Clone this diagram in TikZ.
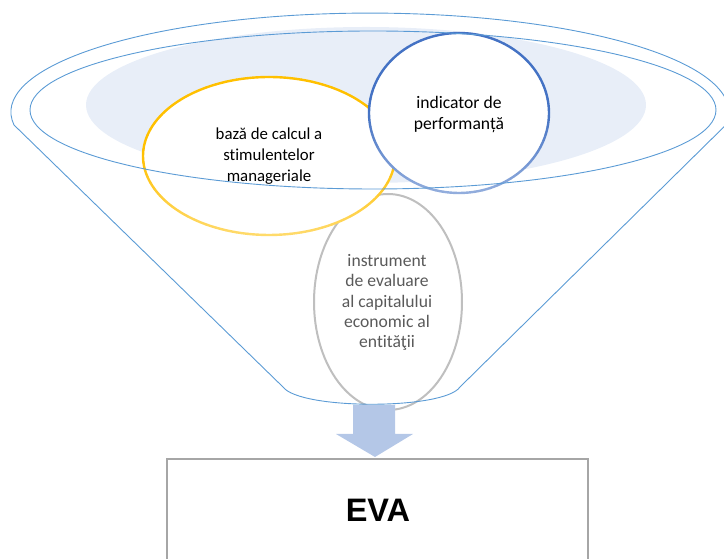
\documentclass[tikz,border=0pt]{standalone}
\usepackage{fontspec}
\setmainfont{Carlito}[Ligatures=NoCommon]
\newfontfamily\evafont{Liberation Sans}
\definecolor{rimblue}{HTML}{5B9BD5}
\definecolor{haze}{HTML}{E8EEF8}
\definecolor{gold}{HTML}{FFC000}
\definecolor{royal}{HTML}{4472C4}
\definecolor{ashline}{HTML}{BFBFBF}
\definecolor{ashtext}{HTML}{5A5A5A}
\definecolor{arrowfill}{HTML}{B4C7E7}
\definecolor{boxline}{HTML}{A6A6A6}
\tikzset{
  rim/.style={draw=rimblue, line width=0.9pt},
  label16/.style={align=center, font=\fontsize{16.8}{21}\selectfont, inner sep=0pt},
}
% ellipse outline whose lower half fades towards a lighter tint
\newcommand\fadeellipse[5]{% centre x, centre y, rx, ry, colour
  \foreach \a in {0,5,...,355}{
    \pgfmathsetmacro\s{sin(\a+2.5)}
    \pgfmathsetmacro\p{\s<0 ? 100+42*\s : 100}
    \draw[#5!\p!white, line width=2.4pt, line cap=round]
      ({#1+#3*cos(\a)},{#2+#4*sin(\a)}) arc[start angle=\a, end angle=\a+5, x radius=#3, y radius=#4];
  }
}
\begin{document}
\begin{tikzpicture}[x=1pt,y=1pt]
\useasboundingbox (0,0) rectangle (724,559);

% pale disc inside the funnel mouth
\fill[haze] (366,454) ellipse[x radius=280, y radius=78];

% grey ellipse (behind the other two)
\filldraw[fill=white, draw=ashline, line width=2pt] (388,257) ellipse[x radius=74, y radius=108];
\node[label16, font=\fontsize{17.6}{20.3}\selectfont, text=ashtext] (instr) at (387,256.5)
  {instrument\\de evaluare\\al capitalului\\economic al\\entităţii};

% yellow ellipse
\fill[white] (269,403) ellipse[x radius=126, y radius=79];
\fadeellipse{269}{403}{126}{79}{gold}
\node[label16] (baza) at (269,403) {bază de calcul a\\stimulentelor\\manageriale};

% blue ellipse
\fill[white] (459,446) ellipse[x radius=90, y radius=80];
\fadeellipse{459}{446}{90}{80}{royal}
\node[label16, font=\fontsize{17.6}{21}\selectfont] (perf) at (459,444.5) {indicator de\\performanță};

% block arrow down to the result box
\fill[arrowfill] (353,154) -- (395,154) -- (395,125) -- (413,125) -- (375,102)
  -- (336,125) -- (353,125) -- cycle;

% result box
\draw[boxline, line width=2pt] (167,-5) -- (167,100) -- (588,100) -- (588,-5);
\node[font=\evafont\bfseries\fontsize{32.5}{38}\selectfont] (eva) at (378,49) {EVA};

% funnel: inner rim and outer outline
\draw[rim] (373,449) ellipse[x radius=343, y radius=79];
\draw[rim] (14,434) arc[start angle=187.5, end angle=-7.5, x radius=359, y radius=99]
  -- (460,172) .. controls (444,149) and (300,149) .. (283,172) -- cycle;
\end{tikzpicture}
\end{document}
